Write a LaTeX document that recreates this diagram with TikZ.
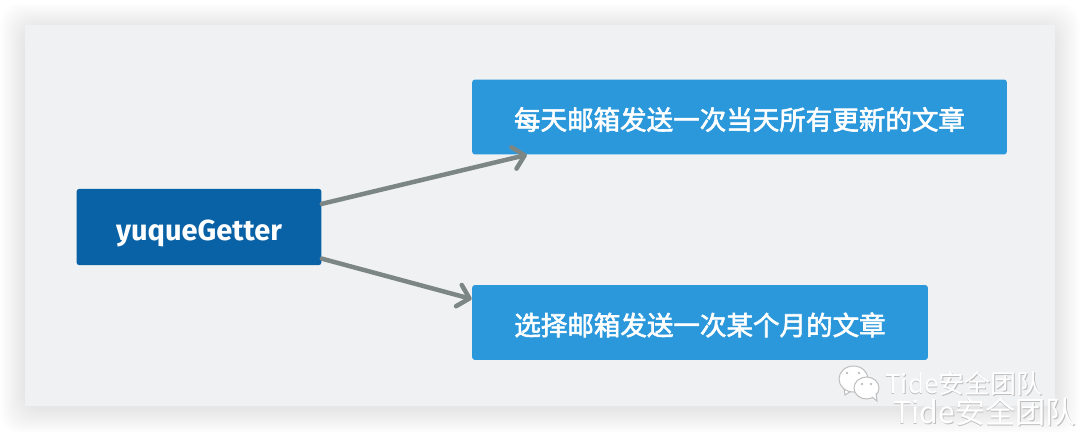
\documentclass[tikz,border=0pt]{standalone}
\usepackage{fontspec}
\setmainfont{Noto Sans CJK SC}
\newfontfamily\latinfont{Fira Sans}
\newfontfamily\boxfont[FakeBold=2.2]{Noto Sans CJK SC}
\usetikzlibrary{arrows.meta, calc}

\definecolor{panelgray}{HTML}{F0F1F3}
\definecolor{rootblue}{HTML}{0A62A6}
\definecolor{leafblue}{HTML}{2B98DC}
\definecolor{linegray}{HTML}{7C8684}
\definecolor{markgray}{HTML}{BEBEBE}

% keeps the box size, sets the text lower
\newcommand{\lowertext}[2]{\raisebox{-#1}[\height][\depth]{#2}}

\tikzset{
	boxnode/.style={rectangle, rounded corners=0.06cm, inner sep=0, minimum height=1.5cm, text=white, font=\boxfont\fontsize{15.1}{18}\selectfont},
	linkline/.style={-{Straight Barb[length=0.22cm, width=0.44cm, round]}, line width=0.09cm, linegray, line cap=round},
	marknode/.style={inner sep=0, anchor=west, text=white},
	markshadow/.style={inner sep=0, anchor=west, text=markgray},
	bubble/.style={draw=markgray, fill=white, line width=0.02cm}
}

\begin{document}
\begin{tikzpicture}[x=0.02cm, y=-0.02cm]
		\useasboundingbox (0,0) rectangle (1080,432);
		
		% soft edge round the panel
		\foreach \s in {25,24,...,1} {
			\fill[black, opacity=0.0035, rounded corners=0.4cm] (25-\s,25-\s+3) rectangle (1055+\s,406+\s+3);
		}
		\fill[panelgray] (25,25) rectangle (1055,406);
		
		\node[boxnode, fill=rootblue, minimum width=4.9cm, minimum height=1.53cm, font=\latinfont\fontsize{16.5}{20}\selectfont\bfseries] (root) at (199,227) {\lowertext{3.6pt}{yuqueGetter}};
		\node[boxnode, fill=leafblue, minimum width=10.7cm] (daily) at (739.5,117) {\lowertext{1.4pt}{每天邮箱发送一次当天所有更新的文章}};
		\node[boxnode, fill=leafblue, minimum width=9.12cm] (monthly) at (700,322.5) {\lowertext{1.4pt}{选择邮箱发送一次某个月的文章}};
		
		\draw[linkline] ($(root.north east)!0.2!(root.south east)$) -- ($(daily.south west)!0.103!(daily.south east)$);
		\draw[linkline] ($(root.north east)!0.91!(root.south east)$) -- ($(monthly.north west)!0.19!(monthly.south west)$);
		
		% watermark
		\draw[bubble] (844,388) -- (845,395) -- (853,390);
		\draw[bubble] (853.5,379) ellipse (14.5 and 13);
		\draw[bubble] (866.5,388) ellipse (12.5 and 11);
		\draw[bubble] (872,397) -- (877,401) -- (876,393);
		\foreach \x/\y in {847/373, 859/373, 862/384, 871/384} {
			\fill[markgray] (\x,\y) circle (1.3);
		}
		\node[markshadow, font=\fontsize{14.8}{18}\selectfont] (mark1s) at (885.5,384.5) {Tide安全团队};
		\node[marknode, font=\fontsize{14.8}{18}\selectfont] (mark1) at (885,384) {Tide安全团队};
		\node[markshadow, font=\fontsize{17.2}{20}\selectfont] (mark2s) at (893.5,412.5) {Tide安全团队};
		\node[marknode, font=\fontsize{17.2}{20}\selectfont] (mark2) at (893,412) {Tide安全团队};

\end{tikzpicture}
\end{document}
